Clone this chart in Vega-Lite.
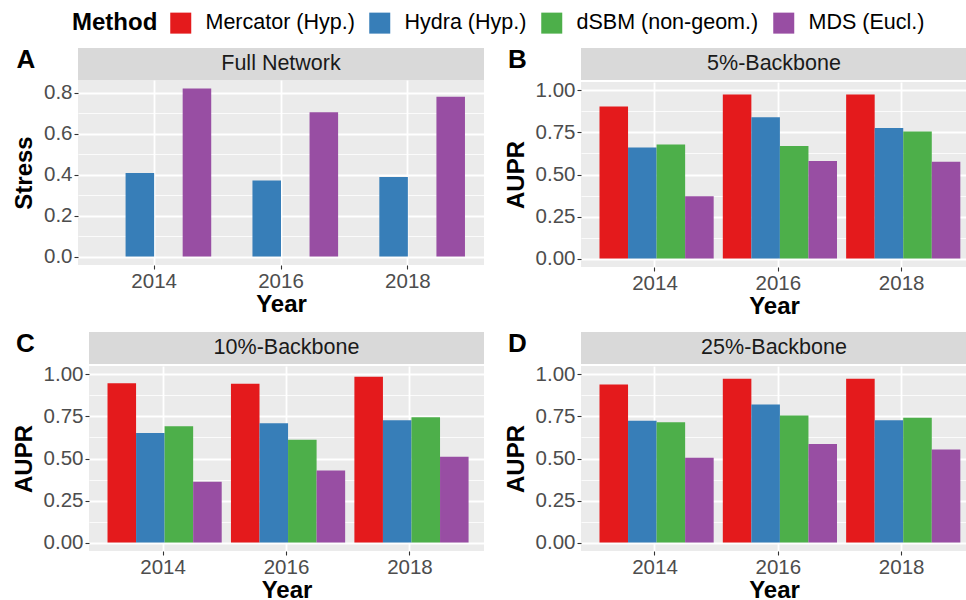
{
  "$schema": "https://vega.github.io/schema/vega-lite/v6.json",
  "padding": {"top": 12, "left": 11, "right": 0, "bottom": 0},
  "datasets": {
    "scores": [
      {"panel": "Full Network", "year": "2014", "method": "Hydra (Hyp.)", "value": 0.408},
      {"panel": "Full Network", "year": "2016", "method": "Hydra (Hyp.)", "value": 0.371},
      {"panel": "Full Network", "year": "2018", "method": "Hydra (Hyp.)", "value": 0.389},
      {"panel": "Full Network", "year": "2014", "method": "MDS (Eucl.)", "value": 0.821},
      {"panel": "Full Network", "year": "2016", "method": "MDS (Eucl.)", "value": 0.705},
      {"panel": "Full Network", "year": "2018", "method": "MDS (Eucl.)", "value": 0.780},

      {"panel": "5%-Backbone", "year": "2014", "method": "Mercator (Hyp.)", "value": 0.905},
      {"panel": "5%-Backbone", "year": "2016", "method": "Mercator (Hyp.)", "value": 0.976},
      {"panel": "5%-Backbone", "year": "2018", "method": "Mercator (Hyp.)", "value": 0.976},
      {"panel": "5%-Backbone", "year": "2014", "method": "Hydra (Hyp.)", "value": 0.661},
      {"panel": "5%-Backbone", "year": "2016", "method": "Hydra (Hyp.)", "value": 0.840},
      {"panel": "5%-Backbone", "year": "2018", "method": "Hydra (Hyp.)", "value": 0.776},
      {"panel": "5%-Backbone", "year": "2014", "method": "dSBM (non-geom.)", "value": 0.679},
      {"panel": "5%-Backbone", "year": "2016", "method": "dSBM (non-geom.)", "value": 0.669},
      {"panel": "5%-Backbone", "year": "2018", "method": "dSBM (non-geom.)", "value": 0.756},
      {"panel": "5%-Backbone", "year": "2014", "method": "MDS (Eucl.)", "value": 0.370},
      {"panel": "5%-Backbone", "year": "2016", "method": "MDS (Eucl.)", "value": 0.580},
      {"panel": "5%-Backbone", "year": "2018", "method": "MDS (Eucl.)", "value": 0.576},

      {"panel": "10%-Backbone", "year": "2014", "method": "Mercator (Hyp.)", "value": 0.948},
      {"panel": "10%-Backbone", "year": "2016", "method": "Mercator (Hyp.)", "value": 0.944},
      {"panel": "10%-Backbone", "year": "2018", "method": "Mercator (Hyp.)", "value": 0.986},
      {"panel": "10%-Backbone", "year": "2014", "method": "Hydra (Hyp.)", "value": 0.652},
      {"panel": "10%-Backbone", "year": "2016", "method": "Hydra (Hyp.)", "value": 0.710},
      {"panel": "10%-Backbone", "year": "2018", "method": "Hydra (Hyp.)", "value": 0.728},
      {"panel": "10%-Backbone", "year": "2014", "method": "dSBM (non-geom.)", "value": 0.692},
      {"panel": "10%-Backbone", "year": "2016", "method": "dSBM (non-geom.)", "value": 0.612},
      {"panel": "10%-Backbone", "year": "2018", "method": "dSBM (non-geom.)", "value": 0.746},
      {"panel": "10%-Backbone", "year": "2014", "method": "MDS (Eucl.)", "value": 0.362},
      {"panel": "10%-Backbone", "year": "2016", "method": "MDS (Eucl.)", "value": 0.429},
      {"panel": "10%-Backbone", "year": "2018", "method": "MDS (Eucl.)", "value": 0.511},

      {"panel": "25%-Backbone", "year": "2014", "method": "Mercator (Hyp.)", "value": 0.940},
      {"panel": "25%-Backbone", "year": "2016", "method": "Mercator (Hyp.)", "value": 0.974},
      {"panel": "25%-Backbone", "year": "2018", "method": "Mercator (Hyp.)", "value": 0.974},
      {"panel": "25%-Backbone", "year": "2014", "method": "Hydra (Hyp.)", "value": 0.724},
      {"panel": "25%-Backbone", "year": "2016", "method": "Hydra (Hyp.)", "value": 0.821},
      {"panel": "25%-Backbone", "year": "2018", "method": "Hydra (Hyp.)", "value": 0.728},
      {"panel": "25%-Backbone", "year": "2014", "method": "dSBM (non-geom.)", "value": 0.716},
      {"panel": "25%-Backbone", "year": "2016", "method": "dSBM (non-geom.)", "value": 0.755},
      {"panel": "25%-Backbone", "year": "2018", "method": "dSBM (non-geom.)", "value": 0.742},
      {"panel": "25%-Backbone", "year": "2014", "method": "MDS (Eucl.)", "value": 0.505},
      {"panel": "25%-Backbone", "year": "2016", "method": "MDS (Eucl.)", "value": 0.586},
      {"panel": "25%-Backbone", "year": "2018", "method": "MDS (Eucl.)", "value": 0.553}
    ],
    "strips": [
      {"panel": "Full Network"},
      {"panel": "5%-Backbone"},
      {"panel": "10%-Backbone"},
      {"panel": "25%-Backbone"}
    ]
  },
  "vconcat": [
    {
      "spacing": 0,
      "hconcat": [
        {
          "width": 1, "height": 1,
          "view": {"fill": null, "stroke": null},
          "data": {"values": [{}]},
          "mark": {"type": "text", "text": ""},
          "encoding": {}
        },
        {
          "spacing": 20,
          "hconcat": [
            {
              "title": {"text": "A"},
              "spacing": 0,
              "vconcat": [
                {
                  "width": 406, "height": 32,
                  "view": {"fill": "#D9D9D9", "stroke": null},
                  "data": {"name": "strips"},
                  "transform": [{"filter": "datum.panel === 'Full Network'"}],
                  "mark": {"type": "text", "fontSize": 21.5, "color": "#1A1A1A", "baseline": "middle"},
                  "encoding": {"text": {"field": "panel"}}
                },
                {
                  "width": 406, "height": 185,
                  "data": {"name": "scores"},
                  "transform": [{"filter": "datum.panel === 'Full Network'"}],
                  "layer": [
                    {
                      "mark": {"type": "bar"},
                      "encoding": {
                        "x": {"field": "year", "type": "nominal", "title": "Year",
                              "scale": {"paddingInner": 0.1, "paddingOuter": 0.15}},
                        "xOffset": {"field": "method", "type": "nominal",
                                    "scale": {"domain": ["Mercator (Hyp.)", "Hydra (Hyp.)", "dSBM (non-geom.)", "MDS (Eucl.)"], "paddingInner": 0, "paddingOuter": 0}},
                        "y": {"field": "value", "type": "quantitative", "title": "Stress",
                              "scale": {"domain": [-0.041, 0.862], "nice": false, "zero": false},
                              "axis": {"values": [0, 0.2, 0.4, 0.6, 0.8], "format": ".1f"}},
                        "color": {"field": "method", "type": "nominal", "title": "Method",
                                  "scale": {"domain": ["Mercator (Hyp.)", "Hydra (Hyp.)", "dSBM (non-geom.)", "MDS (Eucl.)"],
                                            "range": ["#E41A1C", "#377EB8", "#4DAF4A", "#984EA3"]}}
                      }
                    },
                    {
                      "mark": {"type": "rule", "opacity": 0},
                      "encoding": {
                        "y": {"field": "value", "type": "quantitative",
                              "axis": {"orient": "right", "values": [0.1, 0.3, 0.5, 0.7], "labels": false, "ticks": false, "title": null, "grid": true, "gridWidth": 0.8}}
                      }
                    }
                  ],
                  "resolve": {"axis": {"y": "independent"}}
                }
              ]
            },
            {
              "title": {"text": "B"},
              "spacing": 0,
              "vconcat": [
                {
                  "width": 386, "height": 32,
                  "view": {"fill": "#D9D9D9", "stroke": null},
                  "data": {"name": "strips"},
                  "transform": [{"filter": "datum.panel === '5%-Backbone'"}],
                  "mark": {"type": "text", "fontSize": 21.5, "color": "#1A1A1A", "baseline": "middle"},
                  "encoding": {"text": {"field": "panel"}}
                },
                {
                  "width": 386, "height": 185,
                  "data": {"name": "scores"},
                  "transform": [{"filter": "datum.panel === '5%-Backbone'"}],
                  "layer": [
                    {
                      "mark": {"type": "bar"},
                      "encoding": {
                        "x": {"field": "year", "type": "nominal", "title": "Year",
                              "scale": {"paddingInner": 0.1, "paddingOuter": 0.115, "align": 0.652}},
                        "xOffset": {"field": "method", "type": "nominal",
                                    "scale": {"domain": ["Mercator (Hyp.)", "Hydra (Hyp.)", "dSBM (non-geom.)", "MDS (Eucl.)"], "paddingInner": 0, "paddingOuter": 0}},
                        "y": {"field": "value", "type": "quantitative", "title": "AUPR",
                              "scale": {"domain": [-0.05, 1.05], "nice": false, "zero": false},
                              "axis": {"values": [0, 0.25, 0.5, 0.75, 1], "format": ".2f"}},
                        "color": {"field": "method", "type": "nominal", "title": "Method",
                                  "scale": {"domain": ["Mercator (Hyp.)", "Hydra (Hyp.)", "dSBM (non-geom.)", "MDS (Eucl.)"],
                                            "range": ["#E41A1C", "#377EB8", "#4DAF4A", "#984EA3"]}}
                      }
                    },
                    {
                      "mark": {"type": "rule", "opacity": 0},
                      "encoding": {
                        "y": {"field": "value", "type": "quantitative",
                              "axis": {"orient": "right", "values": [0.125, 0.375, 0.625, 0.875], "labels": false, "ticks": false, "title": null, "grid": true, "gridWidth": 0.8}}
                      }
                    }
                  ],
                  "resolve": {"axis": {"y": "independent"}}
                }
              ]
            }
          ]
        }
      ]
    },
    {
      "spacing": 0,
      "hconcat": [
        {
          "width": 1, "height": 1,
          "view": {"fill": null, "stroke": null},
          "data": {"values": [{}]},
          "mark": {"type": "text", "text": ""},
          "encoding": {}
        },
        {
          "spacing": 20,
          "hconcat": [
            {
              "title": {"text": "C"},
              "spacing": 0,
              "vconcat": [
                {
                  "width": 395, "height": 32,
                  "view": {"fill": "#D9D9D9", "stroke": null},
                  "data": {"name": "strips"},
                  "transform": [{"filter": "datum.panel === '10%-Backbone'"}],
                  "mark": {"type": "text", "fontSize": 21.5, "color": "#1A1A1A", "baseline": "middle"},
                  "encoding": {"text": {"field": "panel"}}
                },
                {
                  "width": 395, "height": 185,
                  "data": {"name": "scores"},
                  "transform": [{"filter": "datum.panel === '10%-Backbone'"}],
                  "layer": [
                    {
                      "mark": {"type": "bar"},
                      "encoding": {
                        "x": {"field": "year", "type": "nominal", "title": "Year",
                              "scale": {"paddingInner": 0.1, "paddingOuter": 0.15}},
                        "xOffset": {"field": "method", "type": "nominal",
                                    "scale": {"domain": ["Mercator (Hyp.)", "Hydra (Hyp.)", "dSBM (non-geom.)", "MDS (Eucl.)"], "paddingInner": 0, "paddingOuter": 0}},
                        "y": {"field": "value", "type": "quantitative", "title": "AUPR",
                              "scale": {"domain": [-0.05, 1.05], "nice": false, "zero": false},
                              "axis": {"values": [0, 0.25, 0.5, 0.75, 1], "format": ".2f"}},
                        "color": {"field": "method", "type": "nominal", "title": "Method",
                                  "scale": {"domain": ["Mercator (Hyp.)", "Hydra (Hyp.)", "dSBM (non-geom.)", "MDS (Eucl.)"],
                                            "range": ["#E41A1C", "#377EB8", "#4DAF4A", "#984EA3"]}}
                      }
                    },
                    {
                      "mark": {"type": "rule", "opacity": 0},
                      "encoding": {
                        "y": {"field": "value", "type": "quantitative",
                              "axis": {"orient": "right", "values": [0.125, 0.375, 0.625, 0.875], "labels": false, "ticks": false, "title": null, "grid": true, "gridWidth": 0.8}}
                      }
                    }
                  ],
                  "resolve": {"axis": {"y": "independent"}}
                }
              ]
            },
            {
              "title": {"text": "D"},
              "spacing": 0,
              "vconcat": [
                {
                  "width": 386, "height": 32,
                  "view": {"fill": "#D9D9D9", "stroke": null},
                  "data": {"name": "strips"},
                  "transform": [{"filter": "datum.panel === '25%-Backbone'"}],
                  "mark": {"type": "text", "fontSize": 21.5, "color": "#1A1A1A", "baseline": "middle"},
                  "encoding": {"text": {"field": "panel"}}
                },
                {
                  "width": 386, "height": 185,
                  "data": {"name": "scores"},
                  "transform": [{"filter": "datum.panel === '25%-Backbone'"}],
                  "layer": [
                    {
                      "mark": {"type": "bar"},
                      "encoding": {
                        "x": {"field": "year", "type": "nominal", "title": "Year",
                              "scale": {"paddingInner": 0.1, "paddingOuter": 0.115, "align": 0.652}},
                        "xOffset": {"field": "method", "type": "nominal",
                                    "scale": {"domain": ["Mercator (Hyp.)", "Hydra (Hyp.)", "dSBM (non-geom.)", "MDS (Eucl.)"], "paddingInner": 0, "paddingOuter": 0}},
                        "y": {"field": "value", "type": "quantitative", "title": "AUPR",
                              "scale": {"domain": [-0.05, 1.05], "nice": false, "zero": false},
                              "axis": {"values": [0, 0.25, 0.5, 0.75, 1], "format": ".2f"}},
                        "color": {"field": "method", "type": "nominal", "title": "Method",
                                  "scale": {"domain": ["Mercator (Hyp.)", "Hydra (Hyp.)", "dSBM (non-geom.)", "MDS (Eucl.)"],
                                            "range": ["#E41A1C", "#377EB8", "#4DAF4A", "#984EA3"]}}
                      }
                    },
                    {
                      "mark": {"type": "rule", "opacity": 0},
                      "encoding": {
                        "y": {"field": "value", "type": "quantitative",
                              "axis": {"orient": "right", "values": [0.125, 0.375, 0.625, 0.875], "labels": false, "ticks": false, "title": null, "grid": true, "gridWidth": 0.8}}
                      }
                    }
                  ],
                  "resolve": {"axis": {"y": "independent"}}
                }
              ]
            }
          ]
        }
      ]
    }
  ],
  "spacing": 7,
  "config": {
    "font": "Liberation Sans",
    "view": {"fill": "#EBEBEB", "stroke": null},
    "title": {"anchor": "start", "frame": "bounds", "fontSize": 26, "fontWeight": "bold", "color": "#000000", "offset": -25, "dx": 4},
    "axis": {
      "domain": false,
      "tickColor": "#333333", "tickSize": 4, "tickWidth": 1.1,
      "labelColor": "#4D4D4D", "labelFontSize": 20.5, "labelPadding": 2,
      "gridColor": "#FFFFFF", "gridWidth": 1.8,
      "titleColor": "#000000", "titleFontSize": 24, "titleFontWeight": "bold", "titlePadding": 7
    },
    "axisX": {"labelAngle": 0, "grid": true, "bandPosition": 0.5, "titlePadding": 1},
    "legend": {
      "orient": "none", "legendX": 61, "legendY": -36,
      "direction": "horizontal", "titleOrient": "left",
      "titleFontSize": 24, "titleFontWeight": "bold", "titleColor": "#000000", "titlePadding": 12,
      "labelFontSize": 21.5, "labelColor": "#000000", "labelOffset": 14, "labelLimit": 400,
      "symbolType": "square", "symbolSize": 441, "symbolStrokeWidth": 0, "symbolOpacity": 1,
      "columnPadding": 14
    }
  }
}
